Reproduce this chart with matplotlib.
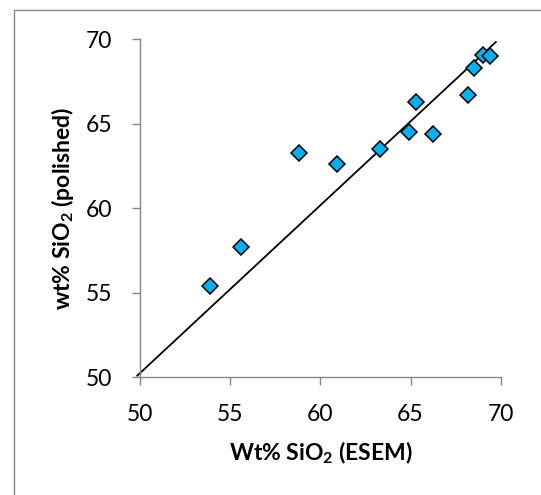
import matplotlib
matplotlib.use("Agg")
import matplotlib.pyplot as plt
from matplotlib.patches import Rectangle

plt.rcParams['font.family'] = ['Lato', 'DejaVu Sans']
plt.rcParams['mathtext.default'] = 'regular'

# SiO2 measured by ESEM vs. on polished sections (wt%)
esem_sio2 = [53.87, 55.59, 58.81, 60.90, 63.30, 64.90, 65.31, 66.23, 68.20, 68.50, 69.04, 69.38]
polished_sio2 = [55.39, 57.70, 63.29, 62.60, 63.48, 64.49, 66.31, 64.39, 66.72, 68.31, 69.08, 69.04]

# reference line end points
line_x = [49.85, 69.73]
line_y = [50.10, 69.84]

ticks = [50, 55, 60, 65, 70]
tick_labels = ['50', '55', '60', '65', '70']

W, H, DPI = 541, 495, 100
fig = plt.figure(figsize=(W / DPI, H / DPI), dpi=DPI)
ax = fig.add_axes([140 / W, (H - 377.3) / H, (500.7 - 140) / W, (377.3 - 39.3) / H])

grey = '#868686'

ax.plot(line_x, line_y, color='black', lw=1.3, zorder=2, clip_on=False)
ax.plot(esem_sio2, polished_sio2, linestyle='none', marker='D', markersize=8.2,
        markerfacecolor='#00B0F0', markeredgecolor='black', markeredgewidth=1.1,
        zorder=3, clip_on=False)

ax.set_xlim(50, 70)
ax.set_ylim(50, 70)
ax.set_xticks(ticks)
ax.set_xticklabels(tick_labels)
ax.set_yticks(ticks)
ax.set_yticklabels(tick_labels)

for side in ('top', 'right'):
    ax.spines[side].set_visible(False)
for side in ('left', 'bottom'):
    ax.spines[side].set_color(grey)
    ax.spines[side].set_linewidth(1.0)

ax.tick_params(axis='both', direction='out', length=6, width=1.0, color=grey,
               labelsize=16.5, labelcolor='black')
ax.tick_params(axis='x', pad=13.5)
ax.tick_params(axis='y', pad=14)

ax.set_xlabel('Wt% SiO$_2$ (ESEM)', fontsize=16.5, fontweight='bold', labelpad=10)
ax.set_ylabel('wt% SiO$_2$ (polished)', fontsize=16.5, fontweight='bold', labelpad=7)

# chart frame
fig.add_artist(Rectangle((14 / W, -0.2), 1.2, 1.2 - 10 / H, transform=fig.transFigure,
                         fill=False, edgecolor=grey, linewidth=1.0))

fig.savefig('out.png', dpi=DPI, facecolor='white')
